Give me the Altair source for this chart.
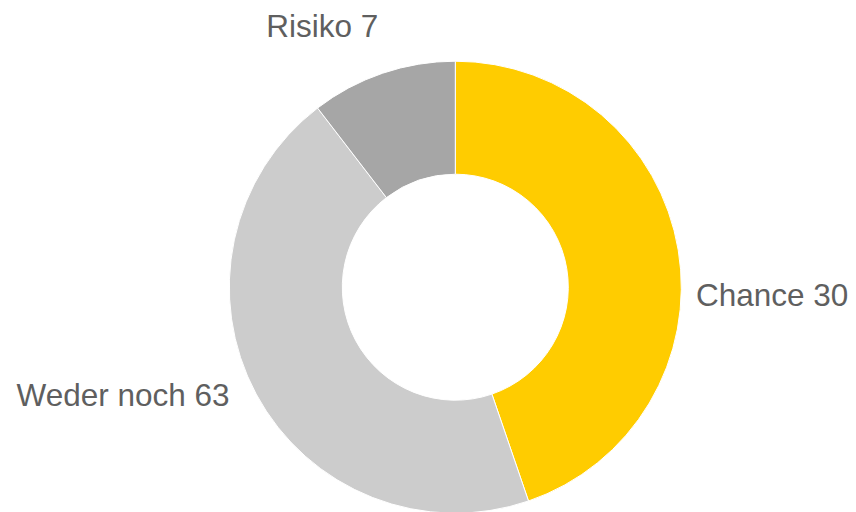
import altair as alt
import pandas as pd

# Data
categories = ["Chance", "Weder noch", "Risiko"]
label_values = [30, 63, 7]            # numbers printed in the labels
slice_shares = [44.75, 44.82, 10.43]  # angular share of each slice as drawn (%)
colors = ["#FFCC00", "#CCCCCC", "#A6A6A6"]

df = pd.DataFrame({
    "idx": list(range(len(categories))),
    "category": categories,
    "value": label_values,
    "share": slice_shares,
})

CX, CY = 447.3, 279.2
FONT = "Liberation Sans"
FS = 31.5
TXT = "#5f5f5f"

base = alt.Chart(df).transform_calculate(
    label="datum.category + ' ' + datum.value"
)

arcs = base.mark_arc(innerRadius=113, outerRadius=226, stroke="white", strokeWidth=1).encode(
    theta=alt.Theta("share:Q", stack=True),
    color=alt.Color("category:N", scale=alt.Scale(domain=categories, range=colors), legend=None),
    order=alt.Order("idx:Q"),
    x=alt.value(CX),
    y=alt.value(CY),
)

def label(cat, align, x, y):
    return base.transform_filter(alt.datum.category == cat).mark_text(
        align=align, baseline="alphabetic", font=FONT, fontSize=FS, color=TXT
    ).encode(text="label:N", x=alt.value(x), y=alt.value(y))

chart = alt.layer(
    arcs,
    label("Risiko", "center", 314.3, 28.7),
    label("Chance", "left", 688.0, 298.0),
    label("Weder noch", "right", 221.6, 398.0),
).properties(
    width=840, height=504, padding=0, autosize=alt.AutoSizeParams(type="none")
).configure_view(stroke=None)

chart.save("out.html", embed_options={"renderer": "svg", "actions": False})
